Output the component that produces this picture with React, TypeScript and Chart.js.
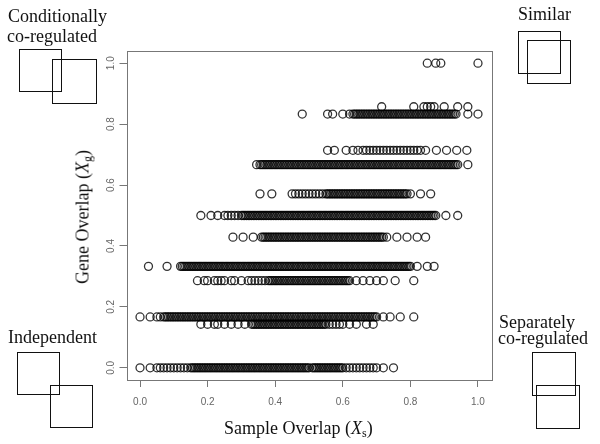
import React, { useEffect, useRef } from "react";
import { Chart, registerables } from "chart.js";

Chart.register(...registerables);

// Gene overlap levels (rows) and the sample-overlap values observed on each row
const rowY = [0, 0.143, 0.167, 0.286, 0.333, 0.429, 0.5, 0.571, 0.667, 0.714, 0.833, 0.857, 1.0];

const row0X = [0, .03, .05, .06, .07, .08, .09, .1, .11, .12, .13, .14,
  .15, .155, .16, .165, .17, .175, .18, .185, .19, .195, .2, .205, .21, .215, .22, .225, .23, .235, .24, .245,
  .25, .255, .26, .265, .27, .275, .28, .285, .29, .295, .3, .305, .31, .315, .32, .325, .33, .335, .34, .345,
  .35, .355, .36, .365, .37, .375, .38, .385, .39, .395, .4, .405, .41, .415, .42, .425, .43, .435, .44, .445,
  .45, .455, .46, .465, .47, .475, .48, .485, .49, .495, .5,
  .51, .515, .52, .525, .53, .535, .54, .545, .55, .555, .56, .565, .57, .575, .58, .585, .59, .595, .6,
  .61, .62, .63, .64, .65, .66, .67, .68, .69, .7, .72, .75];
const row1X = [.18, .2, .22, .23, .25, .27, .29, .31,
  .33, .335, .34, .345, .35, .355, .36, .365, .37, .375, .38, .385, .39, .395, .4, .405, .41, .415, .42, .425,
  .43, .435, .44, .445, .45, .455, .46, .465, .47, .475, .48, .485, .49, .495, .5, .505, .51, .515, .52, .525,
  .53, .535, .54, .545, .55, .56, .57, .58, .59, .6, .62, .64, .67, .69];
const row2X = [0, .03, .05, .06,
  .07, .075, .08, .085, .09, .095, .1, .105, .11, .115, .12, .125, .13, .135, .14, .145,
  .15, .155, .16, .165, .17, .175, .18, .185, .19, .195, .2, .205, .21, .215, .22, .225, .23, .235, .24, .245,
  .25, .255, .26, .265, .27, .275, .28, .285, .29, .295, .3, .305, .31, .315, .32, .325, .33, .335, .34, .345,
  .35, .355, .36, .365, .37, .375, .38, .385, .39, .395, .4, .405, .41, .415, .42, .425, .43, .435, .44, .445,
  .45, .455, .46, .465, .47, .475, .48, .485, .49, .495, .5, .505, .51, .515, .52, .525, .53, .535, .54, .545,
  .55, .555, .56, .565, .57, .575, .58, .585, .59, .595, .6, .605, .61, .615, .62, .625, .63, .635, .64, .645,
  .65, .655, .66, .665, .67, .675, .68, .685, .69, .695, .7, .72, .74, .77, .81];
const row3X = [.17, .19, .2, .22, .23, .24, .25, .27, .28, .3, .32, .33, .34, .35, .36, .37,
  .38, .385, .39, .395, .4, .405, .41, .415, .42, .425, .43, .435, .44, .445, .45, .455, .46, .465, .47, .475,
  .48, .485, .49, .495, .5, .505, .51, .515, .52, .525, .53, .535, .54, .545, .55, .555, .56, .565, .57, .575,
  .58, .585, .59, .595, .6, .605, .61, .615, .62, .64, .66, .68, .7, .72, .755, .81];
const row4X = [.025, .08,
  .12, .125, .13, .135, .14, .145, .15, .155, .16, .165, .17, .175, .18, .185, .19, .195, .2, .205, .21, .215,
  .22, .225, .23, .235, .24, .245, .25, .255, .26, .265, .27, .275, .28, .285, .29, .295, .3, .305, .31, .315,
  .32, .325, .33, .335, .34, .345, .35, .355, .36, .365, .37, .375, .38, .385, .39, .395, .4, .405, .41, .415,
  .42, .425, .43, .435, .44, .445, .45, .455, .46, .465, .47, .475, .48, .485, .49, .495, .5, .505, .51, .515,
  .52, .525, .53, .535, .54, .545, .55, .555, .56, .565, .57, .575, .58, .585, .59, .595, .6, .605, .61, .615,
  .62, .625, .63, .635, .64, .645, .65, .655, .66, .665, .67, .675, .68, .685, .69, .695, .7, .705, .71, .715,
  .72, .725, .73, .735, .74, .745, .75, .755, .76, .765, .77, .775, .78, .785, .79, .795, .8, .82, .85, .87];
const row5X = [.275, .305, .335,
  .36, .365, .37, .375, .38, .385, .39, .395, .4, .405, .41, .415, .42, .425, .43, .435, .44, .445, .45, .455,
  .46, .465, .47, .475, .48, .485, .49, .495, .5, .505, .51, .515, .52, .525, .53, .535, .54, .545, .55, .555,
  .56, .565, .57, .575, .58, .585, .59, .595, .6, .605, .61, .615, .62, .625, .63, .635, .64, .645, .65, .655,
  .66, .665, .67, .675, .68, .685, .69, .695, .7, .705, .71, .715, .72, .73, .76, .79, .82, .845];
const row6X = [.18, .21, .23, .25, .26, .27, .28, .29,
  .3, .305, .31, .315, .32, .325, .33, .335, .34, .345, .35, .355, .36, .365, .37, .375, .38, .385, .39, .395,
  .4, .405, .41, .415, .42, .425, .43, .435, .44, .445, .45, .455, .46, .465, .47, .475, .48, .485, .49, .495,
  .5, .505, .51, .515, .52, .525, .53, .535, .54, .545, .55, .555, .56, .565, .57, .575, .58, .585, .59, .595,
  .6, .605, .61, .615, .62, .625, .63, .635, .64, .645, .65, .655, .66, .665, .67, .675, .68, .685, .69, .695,
  .7, .705, .71, .715, .72, .725, .73, .735, .74, .745, .75, .755, .76, .765, .77, .775, .78, .785, .79, .795,
  .8, .805, .81, .815, .82, .825, .83, .835, .84, .845, .85, .855, .86, .865, .87, .875, .905, .94];
const row7X = [.355, .39, .45, .46, .47, .48, .49, .5, .51, .52, .53, .54,
  .55, .555, .56, .565, .57, .575, .58, .585, .59, .595, .6, .605, .61, .615, .62, .625, .63, .635, .64, .645,
  .65, .655, .66, .665, .67, .675, .68, .685, .69, .695, .7, .705, .71, .715, .72, .725, .73, .735, .74, .745,
  .75, .755, .76, .765, .77, .775, .78, .785, .79, .8, .83, .86];
const row8X = [.345, .355,
  .36, .365, .37, .375, .38, .385, .39, .395, .4, .405, .41, .415, .42, .425, .43, .435, .44, .445, .45, .455,
  .46, .465, .47, .475, .48, .485, .49, .495, .5, .505, .51, .515, .52, .525, .53, .535, .54, .545, .55, .555,
  .56, .565, .57, .575, .58, .585, .59, .595, .6, .605, .61, .615, .62, .625, .63, .635, .64, .645, .65, .655,
  .66, .665, .67, .675, .68, .685, .69, .695, .7, .705, .71, .715, .72, .725, .73, .735, .74, .745, .75, .755,
  .76, .765, .77, .775, .78, .785, .79, .795, .8, .805, .81, .815, .82, .825, .83, .835, .84, .845, .85, .855,
  .86, .865, .87, .875, .88, .885, .89, .895, .9, .905, .91, .915, .92, .925, .93, .935, .94, .97];
const row9X = [.555, .575, .61, .63, .645, .66, .67, .68, .69, .7, .71, .72, .73, .74, .75, .76, .77, .78, .79,
  .8, .81, .82, .83, .845, .877, .907, .937, .967];
const row10X = [.48, .555, .57, .6, .62,
  .63, .635, .64, .645, .65, .655, .66, .665, .67, .675, .68, .685, .69, .695, .7, .705, .71, .715, .72, .725,
  .73, .735, .74, .745, .75, .755, .76, .765, .77, .775, .78, .785, .79, .795, .8, .805, .81, .815, .82, .825,
  .83, .835, .84, .845, .85, .855, .86, .865, .87, .875, .88, .885, .89, .895, .9, .905, .91, .915, .92, .925,
  .93, .935, .97, 1.0];
const row11X = [.715, .81, .84, .85, .86, .87, .9, .94, .97];
const row12X = [.85, .875, .89, 1.0];

const rowsX = [row0X, row1X, row2X, row3X, row4X, row5X, row6X, row7X, row8X, row9X, row10X, row11X, row12X];

const axisTicks = [0, 0.2, 0.4, 0.6, 0.8, 1.0];

const boxPlugin = {
  id: "boxPlugin",
  afterDraw(chart: any) {
    const { ctx, chartArea } = chart;
    ctx.save();
    ctx.strokeStyle = "#777";
    ctx.lineWidth = 1;
    ctx.strokeRect(
      Math.round(chartArea.left) + 0.5,
      Math.round(chartArea.top) + 0.5,
      Math.round(chartArea.right - chartArea.left),
      Math.round(chartArea.bottom - chartArea.top)
    );
    ctx.restore();
  },
};

function App() {
  const ref = useRef<HTMLCanvasElement | null>(null);

  useEffect(() => {
    if (!ref.current) return;
    const points: { x: number; y: number }[] = [];
    rowsX.forEach((xs, i) => {
      xs.forEach((x) => points.push({ x, y: rowY[i] }));
    });
    const chart = new Chart(ref.current, {
      type: "scatter",
      data: {
        datasets: [
          {
            data: points,
            pointStyle: "circle",
            pointRadius: 4,
            borderColor: "rgba(0,0,0,0.8)",
            backgroundColor: "rgba(0,0,0,0)",
            borderWidth: 1.3,
          },
        ],
      },
      options: {
        animation: false,
        responsive: false,
        devicePixelRatio: 1,
        layout: { padding: { left: 0, right: 108.5, top: 51, bottom: 0 } },
        plugins: { legend: { display: false }, tooltip: { enabled: false } },
        scales: {
          x: {
            type: "linear",
            min: -0.04,
            max: 1.04,
            afterBuildTicks: (scale: any) => {
              scale.ticks = axisTicks.map((v) => ({ value: v }));
            },
            afterFit: (scale: any) => {
              scale.height = 64;
            },
            border: { display: false },
            grid: {
              drawOnChartArea: false,
              drawTicks: true,
              tickLength: 7,
              color: "#777",
            },
            ticks: {
              color: "#666",
              padding: 9,
              font: { family: "Arial, 'Liberation Sans', sans-serif", size: 10 },
              callback: (v: any) => Number(v).toFixed(1),
              maxRotation: 0,
              minRotation: 0,
            },
          },
          y: {
            type: "linear",
            min: -0.04,
            max: 1.04,
            afterBuildTicks: (scale: any) => {
              scale.ticks = axisTicks.map((v) => ({ value: v }));
            },
            afterFit: (scale: any) => {
              scale.width = 126.5;
            },
            border: { display: false },
            grid: {
              drawOnChartArea: false,
              drawTicks: true,
              tickLength: 7,
              color: "#777",
            },
            ticks: {
              color: "#666",
              padding: 1,
              crossAlign: "center",
              minRotation: 90,
              maxRotation: 90,
              font: { family: "Arial, 'Liberation Sans', sans-serif", size: 10 },
              callback: (v: any) => Number(v).toFixed(1),
            },
          },
        },
      },
      plugins: [boxPlugin],
    });
    return () => chart.destroy();
  }, []);

  const serif = "'Liberation Serif', 'DejaVu Serif', serif";
  const txt: React.CSSProperties = {
    position: "absolute",
    fontFamily: serif,
    fontSize: 18,
    color: "#111",
    whiteSpace: "nowrap",
    lineHeight: "20px",
  };
  const sq = (left: number, top: number, size = 43): React.CSSProperties => ({
    position: "absolute",
    left,
    top,
    width: size,
    height: size,
    border: "1.5px solid #111",
    boxSizing: "border-box",
  });

  return (
    <div style={{ position: "absolute", left: 0, top: 0, width: 600, height: 444, background: "#fff", overflow: "hidden" }}>
      <canvas ref={ref} width={600} height={444} style={{ position: "absolute", left: 0, top: 0, width: 600, height: 444 }} />
      {/* axis titles */}
      <div style={{ ...txt, left: 224, top: 418, fontSize: 18 }}>
        Sample Overlap (<i>X</i>
        <span style={{ fontSize: 12, verticalAlign: "-3px" }}>s</span>)
      </div>
      <div
        style={{
          ...txt,
          left: 85,
          top: 217,
          transform: "translate(-50%, -50%) rotate(-90deg)",
        }}
      >
        Gene Overlap (<i>X</i>
        <span style={{ fontSize: 12, verticalAlign: "-3px" }}>g</span>)
      </div>
      {/* corner annotations */}
      <div style={{ ...txt, left: 8, top: 6 }}>Conditionally</div>
      <div style={{ ...txt, left: 7, top: 26 }}>co-regulated</div>
      <div style={sq(19, 49)} />
      <div style={sq(52, 59, 45)} />

      <div style={{ ...txt, left: 518, top: 4 }}>Similar</div>
      <div style={sq(518, 31)} />
      <div style={sq(527, 40, 44)} />

      <div style={{ ...txt, left: 8, top: 327 }}>Independent</div>
      <div style={sq(17, 352)} />
      <div style={sq(50, 385)} />

      <div style={{ ...txt, left: 499, top: 312 }}>Separately</div>
      <div style={{ ...txt, left: 498, top: 328 }}>co-regulated</div>
      <div style={sq(532, 352, 44)} />
      <div style={sq(536, 385, 44)} />
    </div>
  );
}

export default App;
